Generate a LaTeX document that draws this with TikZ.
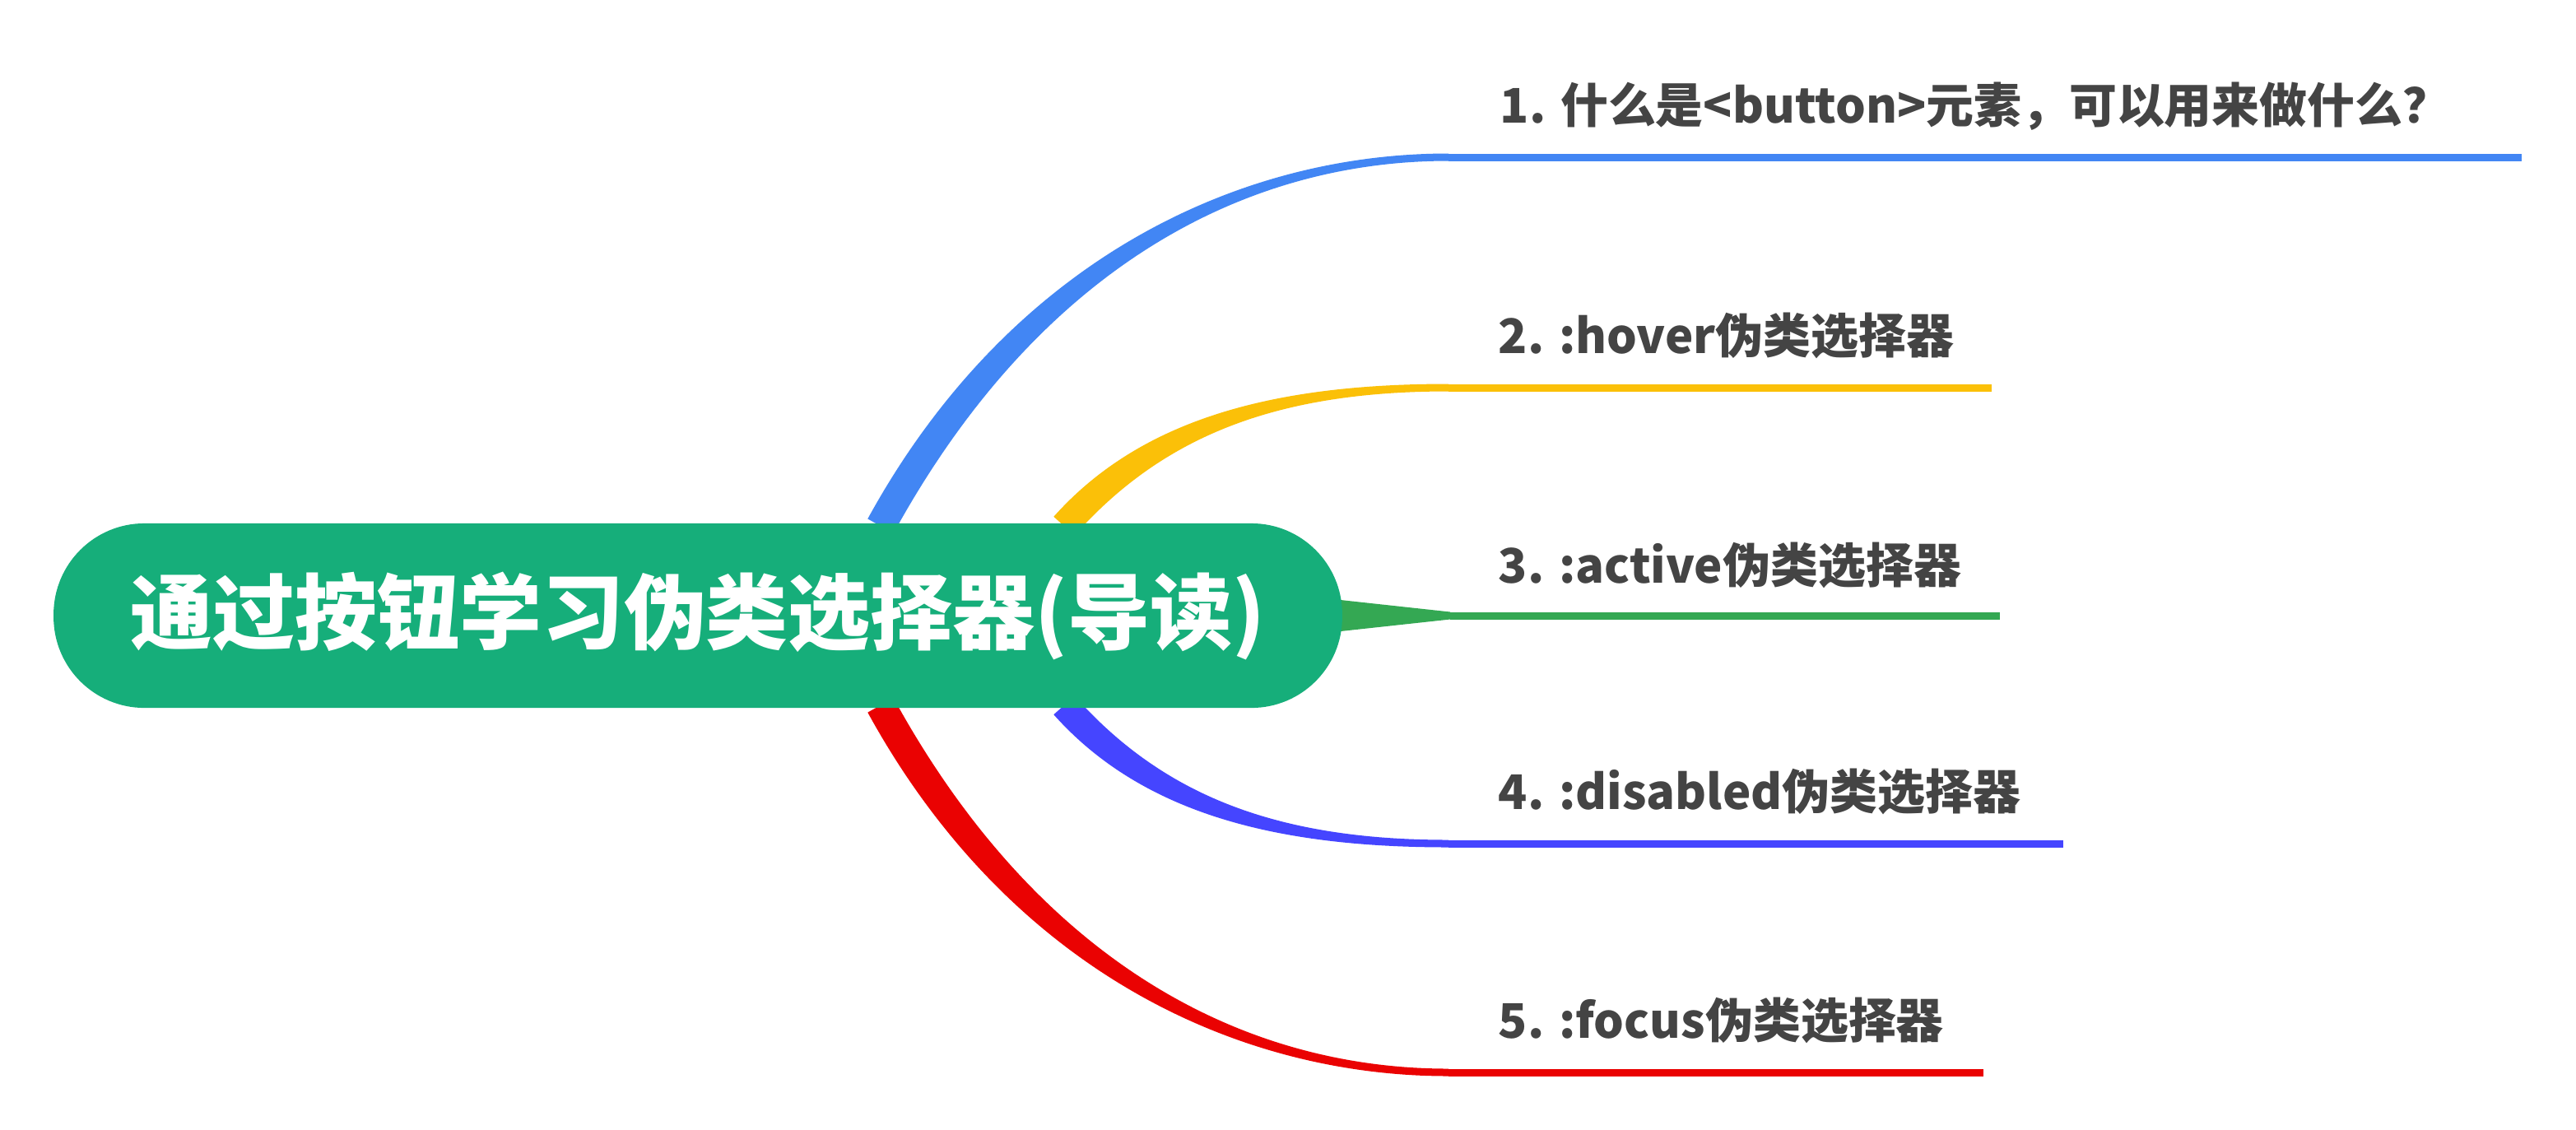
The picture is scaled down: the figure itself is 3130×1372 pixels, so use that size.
\documentclass[tikz,border=0pt]{standalone}
\usepackage{fontspec}
\newfontfamily\cjk{Noto Sans CJK SC}
\usetikzlibrary{calc}
\definecolor{rootgreen}{RGB}{22,174,122}
\definecolor{cblue}{RGB}{66,134,244}
\definecolor{cyellow}{RGB}{251,192,8}
\definecolor{cgreen}{RGB}{52,168,83}
\definecolor{cviolet}{RGB}{69,69,255}
\definecolor{cred}{RGB}{234,2,2}
\definecolor{labelgray}{RGB}{68,68,68}
\pgfdeclarelayer{bg}
\pgfsetlayers{bg,main}
\tikzset{
  rootnode/.style={fill=rootgreen, text=white, rounded corners=26.5pt,
    minimum width=375.8pt, minimum height=53.8pt, inner sep=0pt,
    font=\cjk\bfseries\fontsize{24pt}{28pt}\selectfont},
  leaf/.style={anchor=base west, inner sep=0pt, text=labelgray,
    font=\cjk\bfseries\fontsize{13.9pt}{16pt}\selectfont},
  stem/.style={line width=2.16pt}
}
\begin{document}
\begin{tikzpicture}[x=0.24pt,y=-0.24pt]
\useasboundingbox (0,0) rectangle (3130,1372);
\begin{pgfonlayer}{bg}
\fill[white] (0,0) rectangle (3130,1372);
\end{pgfonlayer}

\node[rootnode] (root) at (848,748) {通过按钮学习伪类选择器(导读)};

% labels
\node[leaf] (t1) at (1822,149) {1. 什么是<button>元素，可以用来做什么？};
\node[leaf] (t2) at (1820,429) {2. :hover伪类选择器};
\node[leaf] (t3) at (1820,708) {3. :active伪类选择器};
\node[leaf] (t4) at (1820,983) {4. :disabled伪类选择器};
\node[leaf] (t5) at (1820,1261) {5. :focus伪类选择器};

% branch points
\coordinate (s1) at ($(root.north)+(222,4)$);
\coordinate (s2) at ($(root.north)+(445,4)$);
\coordinate (s4) at ($(root.south)+(445,-4)$);
\coordinate (s5) at ($(root.south)+(222,-4)$);
\coordinate (e1) at (1760,191);
\coordinate (e2) at (1760,471);
\coordinate (e3) at (1762,748);
\coordinate (e4) at (1760,1025);
\coordinate (e5) at (1760,1303);
\coordinate (l1) at (3064,191);
\coordinate (l2) at (2420,471);
\coordinate (l3) at (2430,748);
\coordinate (l4) at (2507,1025);
\coordinate (l5) at (2410,1303);

\begin{pgfonlayer}{bg}
% 1 blue
\fill[cblue] ($(s1)+(-15.7,-8.7)$) .. controls ($(s1)+(154.3,-318.7)$) and ($(e1)+(-260,-4.5)$) .. ($(e1)+(0,-4.5)$)
  -- ($(e1)+(0,4.5)$) .. controls ($(e1)+(-260,4.5)$) and ($(s1)+(185.7,-301.3)$) .. ($(s1)+(15.7,8.7)$) -- cycle;
\draw[cblue, stem] (e1) -- (l1);
% 2 yellow
\fill[cyellow] ($(s2)+(-12.7,-11.3)$) .. controls ($(s2)+(94.3,-131.3)$) and ($(e2)+(-210,-4.5)$) .. ($(e2)+(0,-4.5)$)
  -- ($(e2)+(0,4.5)$) .. controls ($(e2)+(-210,4.5)$) and ($(s2)+(119.7,-108.7)$) .. ($(s2)+(12.7,11.3)$) -- cycle;
\draw[cyellow, stem] (e2) -- (l2);
% 3 green
\fill[cgreen] ($(root.east)+(-12,-20)$) -- ($(e3)+(0,-4.5)$) -- ($(e3)+(0,4.5)$) -- ($(root.east)+(-12,20)$) -- cycle;
\draw[cgreen, stem] (e3) -- (l3);
% 4 violet
\fill[cviolet] ($(s4)+(-12.7,11.3)$) .. controls ($(s4)+(94.3,131.3)$) and ($(e4)+(-210,4.5)$) .. ($(e4)+(0,4.5)$)
  -- ($(e4)+(0,-4.5)$) .. controls ($(e4)+(-210,-4.5)$) and ($(s4)+(119.7,108.7)$) .. ($(s4)+(12.7,-11.3)$) -- cycle;
\draw[cviolet, stem] (e4) -- (l4);
% 5 red
\fill[cred] ($(s5)+(-15.7,8.7)$) .. controls ($(s5)+(154.3,318.7)$) and ($(e5)+(-260,4.5)$) .. ($(e5)+(0,4.5)$)
  -- ($(e5)+(0,-4.5)$) .. controls ($(e5)+(-260,-4.5)$) and ($(s5)+(185.7,301.3)$) .. ($(s5)+(15.7,-8.7)$) -- cycle;
\draw[cred, stem] (e5) -- (l5);
\end{pgfonlayer}
\end{tikzpicture}
\end{document}
